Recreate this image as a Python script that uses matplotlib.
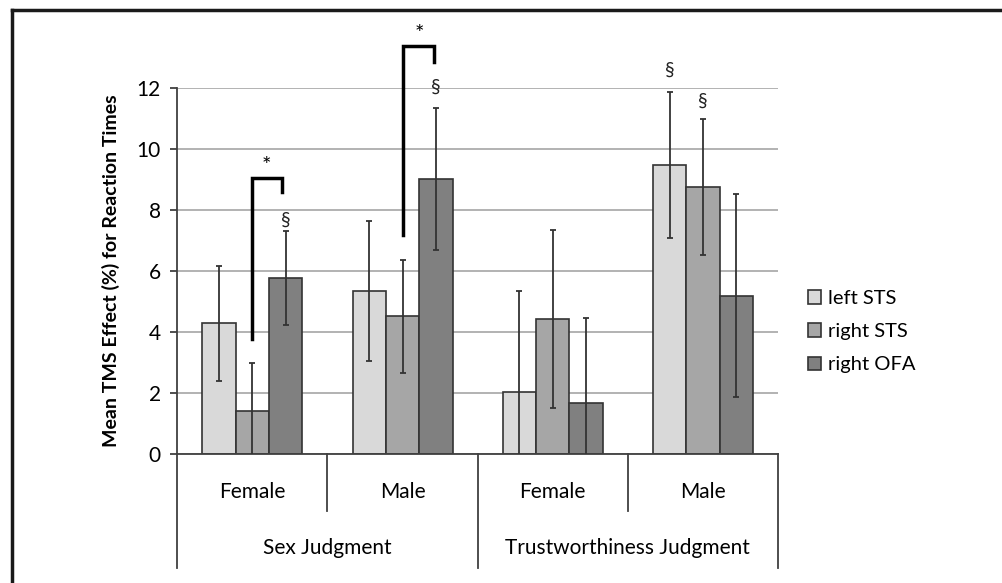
import numpy as np
import matplotlib
matplotlib.use("Agg")
from matplotlib import pyplot as plt

plt.rcParams['font.family'] = ['Lato', 'DejaVu Sans']

# data
categories = ['Female', 'Male', 'Female', 'Male']
groups = ['Sex Judgment', 'Trustworthiness Judgment']
series = ['left STS', 'right STS', 'right OFA']
left_sts = [4.27, 5.34, 2.02, 9.47]
right_sts = [1.41, 4.51, 4.41, 8.75]
right_ofa = [5.77, 9.00, 1.65, 5.18]
err_left_sts = [1.87, 2.30, 3.32, 2.40]
err_right_sts = [1.55, 1.85, 2.92, 2.24]
err_right_ofa = [1.54, 2.33, 2.79, 3.33]
colors = ['#d9d9d9', '#a6a6a6', '#808080']

# § markers (category, series index, y)
section_marks = [(0, 2, 7.66), (1, 2, 12.0), (3, 0, 12.58), (3, 1, 11.54)]
# brackets: x start, x end, y bottom left, y top, y bottom right, star x
brackets = [(0.0, 0.20, 3.75, 9.03, 8.59, 0.09),
            (1.0, 1.21, 7.17, 13.37, 12.85, 1.11)]

W, H = 1002, 583
fig = plt.figure(figsize=(W / 100, H / 100), dpi=100)
ax_l, ax_r, ax_t, ax_b = 177.3, 778.0, 87.7, 453.7
ax = fig.add_axes([ax_l / W, 1 - ax_b / H, (ax_r - ax_l) / W, (ax_b - ax_t) / H])

x = np.arange(len(categories))
bw = 2 / 9
vals = [left_sts, right_sts, right_ofa]
errs = [err_left_sts, err_right_sts, err_right_ofa]
for i, (v, e) in enumerate(zip(vals, errs)):
    xs = x + (i - 1) * bw
    ax.bar(xs, v, bw, color=colors[i], edgecolor='#333333', linewidth=1.2,
           label=series[i], zorder=2)
    ax.errorbar(xs, v, yerr=e, fmt='none', ecolor='#333333', elinewidth=1.3,
                capsize=2.5, capthick=1.3, zorder=3)

for c, s, y in section_marks:
    ax.text(x[c] + (s - 1) * bw, y, '§', ha='center', va='center', fontsize=14,
            color='#222222', clip_on=False)

for x0, x1, yl, yt, yr, sx in brackets:
    ax.plot([x0, x0, x1, x1], [yl, yt, yt, yr], color='black', lw=2.5,
            clip_on=False, solid_joinstyle='miter', zorder=4)
    ax.text(sx, yt + 0.4, '*', ha='center', va='center', fontsize=16, clip_on=False)

ax.set_xlim(-0.5, 3.5)
ax.set_ylim(0, 12)
ax.set_yticks(np.arange(0, 13, 2))
ax.yaxis.grid(True, color='#a6a6a6', lw=1.2)
ax.set_axisbelow(True)
for sp in ['top', 'right', 'left']:
    ax.spines[sp].set_visible(False)
ax.spines['bottom'].set_color('#404040')
ax.spines['bottom'].set_linewidth(1.3)
ax.set_xticks([])
ax.tick_params(axis='y', length=5, width=1.3, color='#404040', pad=7, labelsize=15)
ax.set_ylabel('Mean TMS Effect (%) for Reaction Times', fontsize=14,
              fontweight='bold', labelpad=12)

# category axis below the plot
tr = ax.get_xaxis_transform()
inner_bottom = -0.156
outer_bottom = -0.3115
ax.plot([-0.5, -0.5], [outer_bottom, 1], color='#404040', lw=1.3,
        transform=tr, clip_on=False)
for xb in [1.5, 3.5]:
    ax.plot([xb, xb], [outer_bottom, 0], color='#404040', lw=1.3,
            transform=tr, clip_on=False)
for xb in [0.5, 2.5]:
    ax.plot([xb, xb], [inner_bottom, 0], color='#404040', lw=1.3,
            transform=tr, clip_on=False)
for xi, lab in zip(x, categories):
    ax.text(xi, -0.104, lab, ha='center', va='center', fontsize=15, transform=tr)
for gi, lab in enumerate(groups):
    ax.text(0.5 + 2 * gi, -0.258, lab, ha='center', va='center', fontsize=15,
            transform=tr)

ax.legend(loc='upper left', bbox_to_anchor=(790 / W, 1 - 272 / H),
          bbox_transform=fig.transFigure, frameon=False, fontsize=14.5,
          handlelength=0.65, handleheight=0.65, handletextpad=0.35, labelspacing=0.8)

# outer frame (top and left only)
fig.add_artist(plt.Line2D([12 / W, 1], [1 - 10 / H, 1 - 10 / H], color='#1a1a1a', lw=2.5))
fig.add_artist(plt.Line2D([12 / W, 12 / W], [0, 1 - 10 / H], color='#1a1a1a', lw=2.5))

fig.savefig('out.png', dpi=100)
